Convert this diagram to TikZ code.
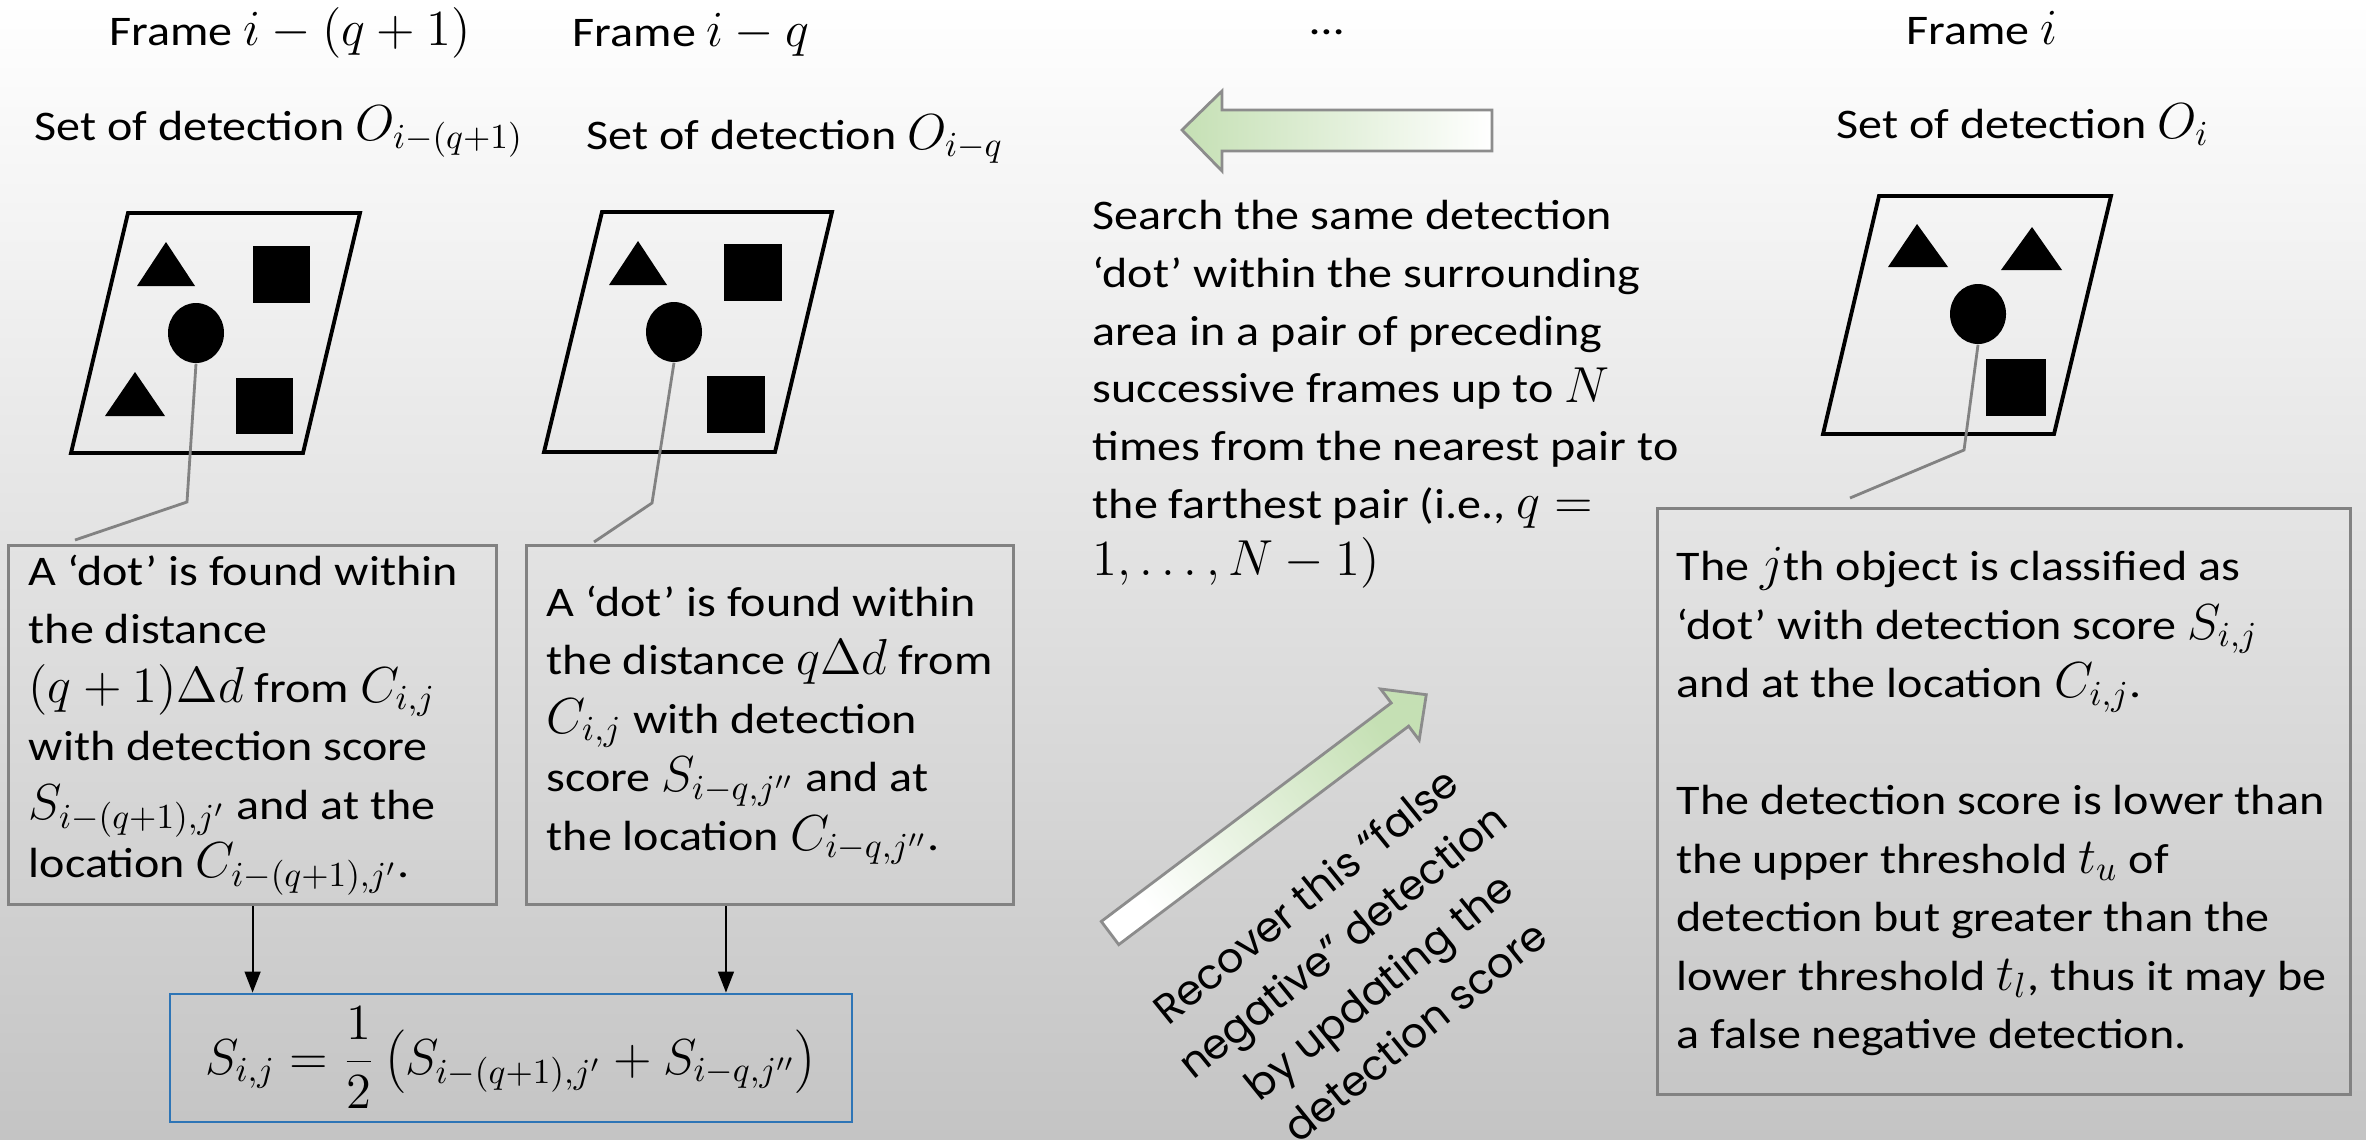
\documentclass[tikz,border=0pt]{standalone}
\usepackage{fontspec}
\setmainfont{Carlito}[FakeStretch=1.14]
\newfontfamily\rotfont{Poppins}
\DeclareMathSizes{12}{13.3}{9.6}{7.4}
\usetikzlibrary{shapes.geometric,arrows.meta,calc}
\definecolor{boxgray}{RGB}{130,130,130}
\definecolor{fblue}{RGB}{46,117,182}
\definecolor{agreen}{RGB}{197,224,180}
\definecolor{aborder}{RGB}{140,140,140}
\definecolor{bgmid}{RGB}{230,230,230}
\definecolor{bgbot}{RGB}{196,196,196}
\begin{document}
\begin{tikzpicture}[x=0.1mm,y=-0.1mm,
  txt/.style={font=\fontsize{12}{16.4}\selectfont, inner sep=0pt, align=left},
  btxt/.style={font=\fontsize{12}{16.65}\selectfont, inner sep=0pt, align=left, anchor=west},
  ttl/.style={font=\fontsize{12}{14}\selectfont, inner sep=0pt, anchor=base},
  frame/.style={draw=black, line width=1.1pt, line join=miter},
  dotnode/.style={ellipse, fill=black, inner sep=0pt, minimum width=5.6mm, minimum height=6mm},
  callout/.style={draw=boxgray, line width=0.8pt},
  tbox/.style={draw=boxgray, line width=0.9pt, inner sep=0pt, anchor=north west},
  flow/.style={draw=black, line width=0.6pt, -{Triangle[width=4.5pt,length=6pt]}},
  blockarrow/.style={draw=aborder, line width=0.8pt}
]
\shade[top color=white, middle color=bgmid, bottom color=bgbot] (0,0) rectangle (2366,1139);
\useasboundingbox (0,0) rectangle (2366,1139);

% titles
\node[ttl] (t1) at (290,45) {Frame $i-(q+1)$};
\node[ttl] (t2) at (691,46) {Frame $i-q$};
\node[ttl] (t3) at (1327,34) {…};
\node[ttl] (t4) at (1982,44) {Frame $i$};
\node[ttl] (s1) at (279,140) {Set of detection $O_{i-(q+1)}$};
\node[ttl] (s2) at (795,149) {Set of detection $O_{i-q}$};
\node[ttl] (s4) at (2023,138) {Set of detection $O_i$};

% frame 1
\draw[frame] (128,213) -- (360,213) -- (303,453) -- (71,453) -- cycle;
\fill (166,242) -- (195,286) -- (137,286) -- cycle;
\fill (253,246) rectangle (310,303);
\fill (135,372) -- (165,416) -- (105,416) -- cycle;
\fill (236,378) rectangle (293,434);
\node[dotnode] (e1) at (196,333) {};

% frame 2
\draw[frame] (602,212) -- (832,212) -- (775,452) -- (544,452) -- cycle;
\fill (638,241) -- (667,285) -- (609,285) -- cycle;
\fill (724,244) rectangle (782,301);
\fill (707,376) rectangle (765,433);
\node[dotnode] (e2) at (674,332) {};

% frame 3
\draw[frame] (1879,196) -- (2111,196) -- (2054,434) -- (1823,434) -- cycle;
\fill (1917,224) -- (1948,267) -- (1888,267) -- cycle;
\fill (2032,227) -- (2062,270) -- (2001,270) -- cycle;
\fill (1986,359) rectangle (2046,416);
\node[dotnode] (e3) at (1978,314) {};

% boxes
\node[tbox, minimum width=48.8mm, minimum height=35.9mm] (box1) at (7,544) {};
\node[btxt] (x1) at ($(box1.west)+(21,0)$) {A ‘dot’ is found within\\ the distance\\ $(q+1)\Delta d$ from $C_{i,j}$\\ with detection score\\ $S_{i-(q+1),j'}$ and at the\\ location $C_{i-(q+1),j'}$.};

\node[tbox, minimum width=48.7mm, minimum height=35.9mm] (box2) at (525,544) {};
\node[btxt] (x2) at ($(box2.west)+(21,0)$) {A ‘dot’ is found within\\ the distance $q\Delta d$ from\\ $C_{i,j}$ with detection\\ score $S_{i-q,j''}$ and at\\ the location $C_{i-q,j''}$.};

\node[tbox, minimum width=69.3mm, minimum height=58.6mm] (box3) at (1656,507) {};
\node[btxt] (x3) at ($(box3.west)+(20,0)$) {The $j$th object is classified as\\ ‘dot’ with detection score $S_{i,j}$\\ and at the location $C_{i,j}$.\\[16.65pt] The detection score is lower than\\ the upper threshold $t_u$ of\\ detection but greater than the\\ lower threshold $t_l$, thus it may be\\ a false negative detection.};

% search text
\node[txt, anchor=north west] (srch) at (1092,200) {Search the same detection\\ ‘dot’ within the surrounding\\ area in a pair of preceding\\ successive frames up to $N$\\ times from the nearest pair to\\ the farthest pair (i.e., $q=$\\ $1,\dots,N-1)$};

% callouts
\coordinate (k1) at (187,502); \coordinate (m1) at (75,540);
\draw[callout] (e1.south) -- (k1) -- (m1);
\coordinate (k2) at (652,503); \coordinate (m2) at (594,542);
\draw[callout] (e2.south) -- (k2) -- (m2);
\coordinate (k3) at (1964,450); \coordinate (m3) at (1850,498);
\draw[callout] (e3.south) -- (k3) -- (m3);

% formula
\node[draw=fblue, line width=0.8pt, minimum width=68.2mm, minimum height=12.8mm, inner sep=0pt, font=\fontsize{14.3}{16}\selectfont] (fbox) at (511,1058) {$\displaystyle S_{i,j}=\frac{1}{2}\left(S_{i-(q+1),j'}+S_{i-q,j''}\right)$};
\draw[flow] (box1.south) -- (box1.south |- fbox.north);
\coordinate (b2) at ($(box2.south west)!0.41!(box2.south east)$);
\draw[flow] (b2) -- (b2 |- fbox.north);

% block arrows
\shadedraw[blockarrow, left color=agreen, right color=white] (1182,130) -- (1222,91) -- (1222,110) -- (1492,110) -- (1492,151) -- (1222,151) -- (1222,171) -- cycle;
\begin{scope}[shift={(1110,933)}, rotate=37]
\shadedraw[blockarrow, top color=agreen, bottom color=white, shading angle=-53] (0,-14.5) -- (363,-14.5) -- (363,-32) -- (396,0) -- (363,32) -- (363,14.5) -- (0,14.5) -- cycle;
\end{scope}
\node[rotate=39, font=\rotfont\fontsize{11.8}{16.5}\selectfont, align=center, inner sep=0pt] (rec) at (1360,963) {Recover this “false\\ negative” detection\\ by updating the\\ detection score};
\end{tikzpicture}
\end{document}
